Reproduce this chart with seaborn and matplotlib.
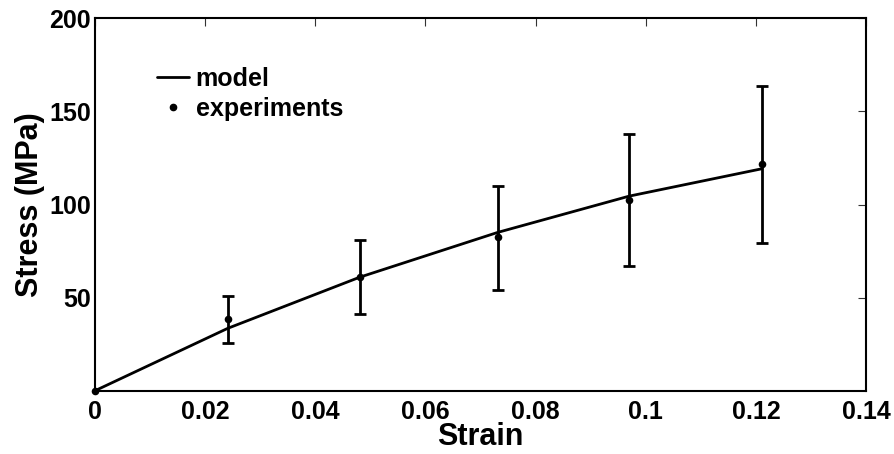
import matplotlib
matplotlib.use("Agg")
import matplotlib.pyplot as plt
import seaborn as sns
import pandas as pd
from matplotlib.lines import Line2D

sns.set_style("white")
plt.rcParams['font.family'] = ['Liberation Sans', 'DejaVu Sans']
plt.rcParams['font.weight'] = 'bold'
for key in ["text.color", "axes.labelcolor", "xtick.labelcolor", "ytick.labelcolor"]:
    plt.rcParams[key] = "black"

# model curve
model_strain = [0.0, 0.0241, 0.0481, 0.0731, 0.0970, 0.1211]
model_stress = [0.0, 33.5, 61.0, 85.0, 104.5, 119.2]

# experiments
exp_strain = [0.0, 0.0241, 0.0481, 0.0731, 0.0970, 0.1211]
exp_stress = [0.0, 38.4, 61.0, 82.3, 102.5, 121.7]
exp_upper = [0.0, 50.9, 81.0, 110.1, 137.8, 163.4]
exp_lower = [0.0, 25.8, 41.0, 54.1, 66.9, 79.4]

x_ticks = [0, 0.02, 0.04, 0.06, 0.08, 0.1, 0.12, 0.14]
x_ticklabels = ["0", "0.02", "0.04", "0.06", "0.08", "0.1", "0.12", "0.14"]
y_ticks = [50, 100, 150, 200]
y_ticklabels = ["50", "100", "150", "200"]

model_df = pd.DataFrame({"strain": model_strain, "stress": model_stress})
exp_df = pd.DataFrame({"strain": exp_strain, "stress": exp_stress})

fig = plt.figure(figsize=(8.94, 4.54), dpi=100)
ax = fig.add_axes([0.1063, 0.1394, 0.8624, 0.8203])

sns.lineplot(data=model_df, x="strain", y="stress", ax=ax, color="black", lw=2, legend=False)

yerr_lo = [s - l for s, l in zip(exp_stress[1:], exp_lower[1:])]
yerr_hi = [u - s for s, u in zip(exp_stress[1:], exp_upper[1:])]
ax.errorbar(exp_strain[1:], exp_stress[1:], yerr=[yerr_lo, yerr_hi], fmt="none",
            ecolor="black", elinewidth=2, capsize=4.6, capthick=2)
sns.scatterplot(data=exp_df, x="strain", y="stress", ax=ax, color="black", s=30,
                edgecolor="black", linewidth=0, zorder=5, legend=False, clip_on=False)

ax.set_xlim(0, 0.14)
ax.set_ylim(0, 200)
ax.set_xticks(x_ticks)
ax.set_xticklabels(x_ticklabels)
ax.set_yticks(y_ticks)
ax.set_yticklabels(y_ticklabels)
ax.tick_params(direction="in", length=6, width=0.8, top=True, right=True,
               labelsize=18, color="#333333")
ax.tick_params(axis="x", pad=7)
ax.tick_params(axis="y", pad=3)
for lab in ax.get_xticklabels() + ax.get_yticklabels():
    lab.set_fontweight("bold")
for sp in ax.spines.values():
    sp.set_linewidth(1.5)
    sp.set_color("black")

ax.set_xlabel("Strain", fontsize=22, fontweight="bold", labelpad=-2)
ax.set_ylabel("Stress (MPa)", fontsize=22, fontweight="bold", labelpad=3)

handles = [Line2D([], [], color="black", lw=2),
           Line2D([], [], color="black", marker=".", ls="none", markersize=9)]
ax.legend(handles, ["model", "experiments"], loc="upper left", frameon=False,
          prop={"size": 18, "weight": "bold"}, handlelength=1.3, handletextpad=0.25,
          labelspacing=0.25, bbox_to_anchor=(0.051, 0.93))

fig.savefig("out.png", dpi=100)
